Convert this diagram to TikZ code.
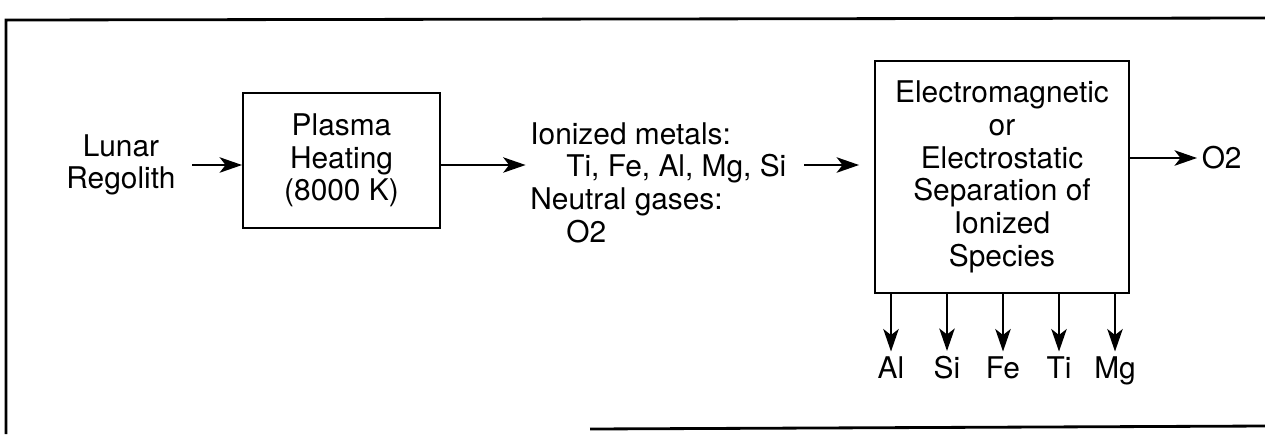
\documentclass[tikz,border=0pt]{standalone}
\usepackage{fontspec}
\setmainfont{TeX Gyre Heros}
\usepackage{tikz}
\usetikzlibrary{arrows.meta, calc}

\tikzset{
  txt/.style={inner sep=2.5pt, font=\fontsize{17}{18.6}\selectfont, align=center},
  stage/.style={txt, draw, line width=1.1pt},
  flow/.style={->, line width=0.9pt},
  frame/.style={line width=1.6pt}
}

\begin{document}
\begin{tikzpicture}[>={Stealth[length=0.45cm, width=0.31cm, inset=0.12cm]}, x=0.02cm, y=-0.02cm]
\useasboundingbox (0,0) rectangle (1265,434);

% Outer frame
\draw[frame] (1265,18) -- (6,20) -- (6,434);
\draw[frame] (590,429) -- (1265,426);

% Input and heating stage
\node[txt] (lunar) at (121,165) {Lunar\\Regolith};
\node[stage, minimum width=3.94cm, minimum height=2.7cm] (plasma) at (341.5,160.5) {Plasma\\Heating\\(8000 K)};

% Plasma products
\node[txt, align=left, anchor=north west] (ions) at (525.6,117.6)
  {Ionized metals:\\\hspace*{0.72cm}Ti, Fe, Al, Mg, Si\\Neutral gases:\\\hspace*{0.72cm}O2};

% Separation stage
\node[stage, minimum width=5.08cm, minimum height=4.64cm] (sep) at (1002,177)
  {Electromagnetic\\or\\Electrostatic\\Separation of\\Ionized\\Species};
\node[txt, anchor=west] (oxy) at (1197,158) {O2};

% Main arrows
\draw[flow] ([xshift=0.24cm]lunar.east) -- (lunar.east -| plasma.west);
\draw[flow] (plasma.east |- lunar) -- (ions.west |- lunar);
\draw[flow] ($(ions.east |- lunar)+(13,0)$) -- ($(sep.west |- lunar)+(-15,0)$);
\draw[flow] (sep.east |- oxy) -- (oxy.west);

% Separated metals
\foreach \m [count=\i] in {Al,Si,Fe,Ti,Mg} {
  \node[txt, anchor=base] (out\i) at ({891+56*(\i-1)},378) {\m};
  \draw[flow] (sep.south -| out\i) -- (out\i.north);
}

\end{tikzpicture}
\end{document}
